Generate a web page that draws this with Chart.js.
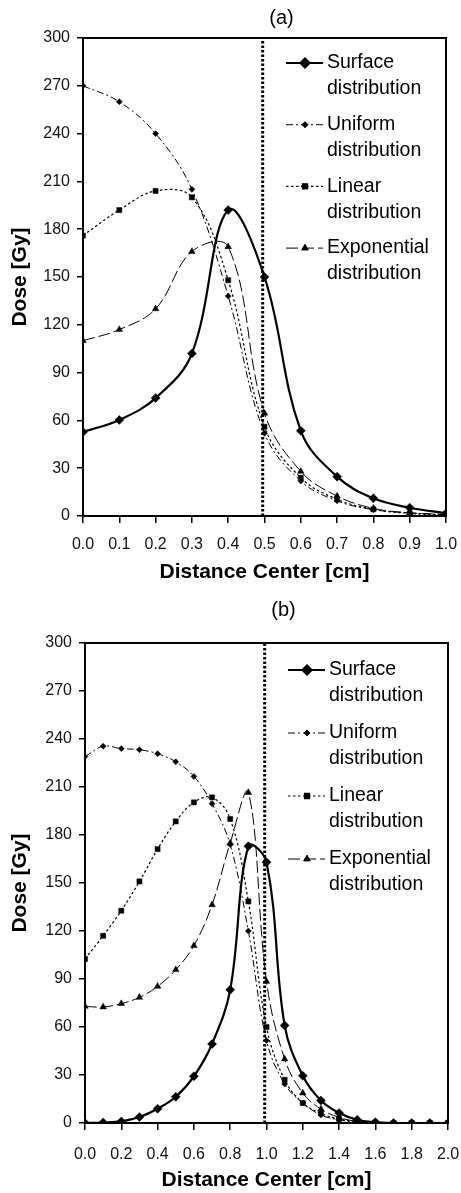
<!DOCTYPE html>
<html>
<head>
<meta charset="utf-8">
<script src="https://cdn.jsdelivr.net/npm/chart.js@4/dist/chart.umd.min.js"></script>
<style>
body { margin: 0; background: #fff; }
canvas { display: block; }
</style>
</head>
<body>
<canvas id="chartA" width="461" height="585"></canvas>
<canvas id="chartB" width="461" height="608"></canvas>
<script>
// (a) values
var distA = [0.0, 0.1, 0.2, 0.3, 0.4, 0.5, 0.6, 0.7, 0.8, 0.9, 1.0]
var surfaceA = [52.7, 60.3, 74, 102, 192, 150, 53.5, 24.7, 11.1, 5.2, 1.7]
var uniformA = [270, 260, 240, 205, 138, 52, 22, 9.5, 4, 2, 0.8]
var linearA = [176, 192, 204, 200, 148, 56, 24, 10.5, 4.2, 1.6, 0.6]
var exponentialA = [110, 117, 130, 166, 169, 64.5, 28, 12.5, 4.8, 2, 1]
var boundaryA = 0.495

// (b) values
var distB = [0.0, 0.1, 0.2, 0.3, 0.4, 0.5, 0.6, 0.7, 0.8, 0.9, 1.0,
             1.1, 1.2, 1.3, 1.4, 1.5, 1.6, 1.7, 1.8, 1.9, 2.0]
var surfaceB = [0, 0.3, 1, 3.7, 8.9, 16.4, 29.2, 49.4, 83.3, 173, 163,
                61, 29.5, 14, 6.2, 2, 0.5, 0, 0, 0, 0]
var uniformB = [229, 235.5, 234, 233.3, 230.8, 225.8, 216.6, 199.6, 174, 120, 51.6,
                24.4, 12.5, 5, 2, 0.5, 0, 0, 0, 0, 0]
var linearB = [102.5, 117, 132.7, 151, 171.2, 188.5, 200.4, 203.5, 190, 138.5, 60,
               27, 12.5, 6, 2.5, 1, 0.3, 0, 0, 0, 0]
var exponentialB = [72.9, 72.5, 74.6, 78.5, 85.4, 95.8, 110.8, 136.4, 175, 206.5, 88.5,
                    40, 18.7, 8.7, 3.5, 1, 0.3, 0, 0, 0, 0]
var boundaryB = 0.99

var doseTicks = { min: 0, max: 300, step: 30 }
var seriesNames = [['Surface', 'distribution'], ['Uniform', 'distribution'],
                   ['Linear', 'distribution'], ['Exponential', 'distribution']]

var FONT = '"Liberation Sans", Arial, sans-serif'

var seriesStyles = [
    { dash: [], width: 2.2, point: 'rectRot', radius: 4.5 },
    { dash: [7, 3, 2, 3], width: 1, point: 'rectRot', radius: 3 },
    { dash: [2.5, 2.5], width: 1.2, point: 'rect', radius: 3.6 },
    { dash: [12, 4], width: 1, point: 'triangle', radius: 3.8 }
]

function pairs(xs, ys) {
    return xs.map(function(x, i) {
        return { x: x, y: ys[i] }
    })
}

function make_dataset(xs, ys, style) {
    return {
        data: pairs(xs, ys),
        borderColor: '#000',
        backgroundColor: '#000',
        borderWidth: style.width,
        borderDash: style.dash,
        pointStyle: style.point,
        pointRadius: style.radius,
        pointBorderWidth: 0.5,
        pointBackgroundColor: '#000',
        pointBorderColor: '#000',
        tension: 0.38,
        fill: false
    }
}

var framePlugin = {
    id: 'frame',
    afterDraw: function(chart) {
        var ctx = chart.ctx
        var a = chart.chartArea
        var opts = chart.options.plugins.frame

        ctx.save()
        ctx.strokeStyle = '#000'
        ctx.lineWidth = 2
        ctx.setLineDash([])
        ctx.strokeRect(a.left, a.top, a.right - a.left, a.bottom - a.top)

        // panel caption
        ctx.fillStyle = '#000'
        ctx.font = '20px ' + FONT
        ctx.textAlign = 'center'
        ctx.textBaseline = 'middle'
        ctx.fillText(opts.caption, (a.left + a.right) / 2 + 17, opts.captionY)

        // legend, two lines per entry
        var sx = a.right - 160
        for (var i = 0; i < seriesNames.length; i++) {
            var st = seriesStyles[i]
            var y = a.top + opts.legendTop + i * opts.legendStep
            ctx.lineWidth = st.width
            ctx.setLineDash(st.dash)
            ctx.beginPath()
            ctx.moveTo(sx, y)
            ctx.lineTo(sx + 37, y)
            ctx.stroke()
            ctx.setLineDash([])
            Chart.helpers.drawPoint(ctx, {
                pointStyle: st.point, radius: st.radius, rotation: 0, borderWidth: 0.5
            }, sx + 19, y)
            ctx.fill()

            ctx.font = '19.5px ' + FONT
            ctx.textAlign = 'left'
            ctx.fillText(seriesNames[i][0], sx + 41, y)
            ctx.fillText(seriesNames[i][1], sx + 41, y + 26)
        }
        ctx.restore()
    }
}

function draw_panel(id, xs, series, boundary, xmax, xstep, opts) {
    var datasets = []
    for (var n = 0; n < series.length; n++) {
        datasets.push(make_dataset(xs, series[n], seriesStyles[n]))
    }
    datasets.push({
        data: [{ x: boundary, y: doseTicks.min }, { x: boundary, y: doseTicks.max }],
        borderColor: '#000',
        borderWidth: 3,
        borderDash: [2.5, 2],
        pointRadius: 0,
        tension: 0
    })

    new Chart(document.getElementById(id), {
        type: 'line',
        data: { datasets: datasets },
        options: {
            responsive: false,
            animation: false,
            events: [],
            layout: { padding: { top: opts.top, right: opts.right, left: 0, bottom: 0 } },
            plugins: {
                legend: { display: false },
                tooltip: { enabled: false },
                frame: opts
            },
            scales: {
                x: {
                    type: 'linear',
                    min: 0,
                    max: xmax,
                    afterFit: function(s) {
                        s.height = opts.xHeight
                        // plot edges come from layout padding only
                        s.paddingLeft = 0
                        s.paddingRight = 0
                    },
                    border: { display: true, color: '#000', width: 2 },
                    grid: { drawOnChartArea: false, drawTicks: true, tickLength: 7, color: '#000', lineWidth: 1.5 },
                    ticks: {
                        stepSize: xstep,
                        autoSkip: false,
                        maxRotation: 0,
                        padding: opts.tickPad,
                        color: '#111',
                        font: { family: FONT, size: 16 },
                        callback: function(v) { return v.toFixed(1) }
                    },
                    title: {
                        display: true,
                        text: 'Distance Center [cm]',
                        color: '#000',
                        padding: { top: 0, bottom: 0 },
                        font: { family: FONT, size: 21, weight: 'bold' }
                    }
                },
                y: {
                    min: doseTicks.min,
                    max: doseTicks.max,
                    afterFit: function(s) { s.width = opts.yWidth },
                    border: { display: true, color: '#000', width: 2 },
                    grid: { drawOnChartArea: false, drawTicks: true, tickLength: 6, color: '#000', lineWidth: 1.5 },
                    ticks: {
                        stepSize: doseTicks.step,
                        padding: 7,
                        color: '#111',
                        font: { family: FONT, size: 16 }
                    },
                    title: {
                        display: true,
                        text: 'Dose [Gy]',
                        color: '#000',
                        padding: { top: 8, bottom: 0 },
                        font: { family: FONT, size: 21, weight: 'bold' }
                    }
                }
            }
        },
        plugins: [framePlugin]
    })
}

draw_panel('chartA', distA, [surfaceA, uniformA, linearA, exponentialA], boundaryA, 1.0, 0.1,
    { caption: '(a)', captionY: 18, top: 38, right: 15, xHeight: 69, yWidth: 83, tickPad: 12,
      legendTop: 25, legendStep: 61.7 })
draw_panel('chartB', distB, [surfaceB, uniformB, linearB, exponentialB], boundaryB, 2.0, 0.2,
    { caption: '(b)', captionY: 25, top: 58, right: 13, xHeight: 70, yWidth: 85, tickPad: 15,
      legendTop: 27, legendStep: 63 })
</script>
</body>
</html>
